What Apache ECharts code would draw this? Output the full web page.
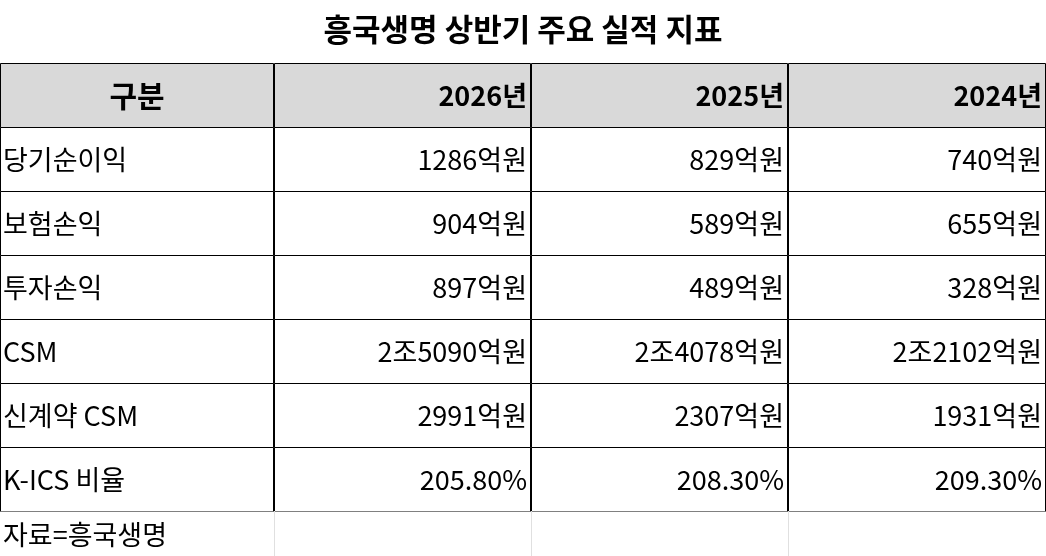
<!DOCTYPE html>
<html><head><meta charset="utf-8">
<script src="https://cdn.jsdelivr.net/npm/echarts@6/dist/echarts.min.js"></script>
<style>html,body{margin:0;padding:0;background:#fff}#c{width:1046px;height:556px}</style>
</head><body><div id="c"></div>
<script>
const title = '흥국생명 상반기 주요 실적 지표';
const headers = ['구분', '2026년', '2025년', '2024년'];
const rowLabels = ['당기순이익', '보험손익', '투자손익', 'CSM', '신계약 CSM', 'K-ICS 비율'];
const y2026 = ['1286억원', '904억원', '897억원', '2조5090억원', '2991억원', '205.80%'];
const y2025 = ['829억원', '589억원', '489억원', '2조4078억원', '2307억원', '208.30%'];
const y2024 = ['740억원', '655억원', '328억원', '2조2102억원', '1931억원', '209.30%'];
const source = '자료=흥국생명';

const colEdges = [0, 274, 531, 788, 1046];
const rowEdges = [63, 127, 191, 255, 319, 383, 447, 511, 556];
const cols = [rowLabels, y2026, y2025, y2024];
const data = [];
headers.forEach((h, c) => data.push([c, 0, h, 'h']));
for (let r = 0; r < rowLabels.length; r++)
  for (let c = 0; c < 4; c++) data.push([c, r + 1, cols[c][r], 'b']);
for (let c = 0; c < 4; c++) data.push([c, 7, c === 0 ? source : '', 'f']);

const chart = echarts.init(document.getElementById('c'));
const F = '"Noto Sans CJK KR", sans-serif';
chart.setOption({
  animation: false,
  title: { text: title, left: 'center', top: 9, textStyle: { fontFamily: F, fontSize: 31, fontWeight: 'bold', color: '#000' } },
  grid: { left: 0, right: 0, top: 0, bottom: 0 },
  xAxis: { type: 'value', min: 0, max: 1046, show: false },
  yAxis: { type: 'value', min: 0, max: 556, inverse: true, show: false },
  series: [{
    type: 'custom', data: data,
    renderItem: function (params, api) {
      const c = api.value(0), r = api.value(1);
      const d = data[params.dataIndex];
      const kind = d[3];
      const p0 = api.coord([colEdges[c], rowEdges[r]]);
      const p1 = api.coord([colEdges[c + 1], rowEdges[r + 1]]);
      const w = p1[0] - p0[0], h = p1[1] - p0[1];
      const foot = kind === 'f';
      const children = [{
        type: 'rect', shape: { x: p0[0] + 0.5, y: p0[1] + 0.5, width: w - 1, height: h },
        style: { fill: kind === 'h' ? '#d9d9d9' : '#fff', stroke: foot ? 'transparent' : '#000', lineWidth: 1 }
      }];
      if (foot && c > 0) children.push({ type: 'line', shape: { x1: p0[0] + 0.5, y1: p0[1], x2: p0[0] + 0.5, y2: p1[1] }, style: { stroke: '#e0e0e0', lineWidth: 1 } });
      let align = 'right', tx = p1[0] - 4;
      if (c === 0) { align = kind === 'h' ? 'center' : 'left'; tx = kind === 'h' ? p0[0] + w / 2 : p0[0] + 3; }
      children.push({
        type: 'text', style: {
          text: d[2], x: tx, y: p0[1] + h / 2 + 1, align: align, verticalAlign: 'middle',
          font: (kind === 'h' ? 'bold ' : '') + (c === 0 && kind === 'h' ? '30px ' : '27px ') + F, fill: '#000'
        }
      });
      return { type: 'group', children: children };
    }
  }]
});
</script></body></html>
